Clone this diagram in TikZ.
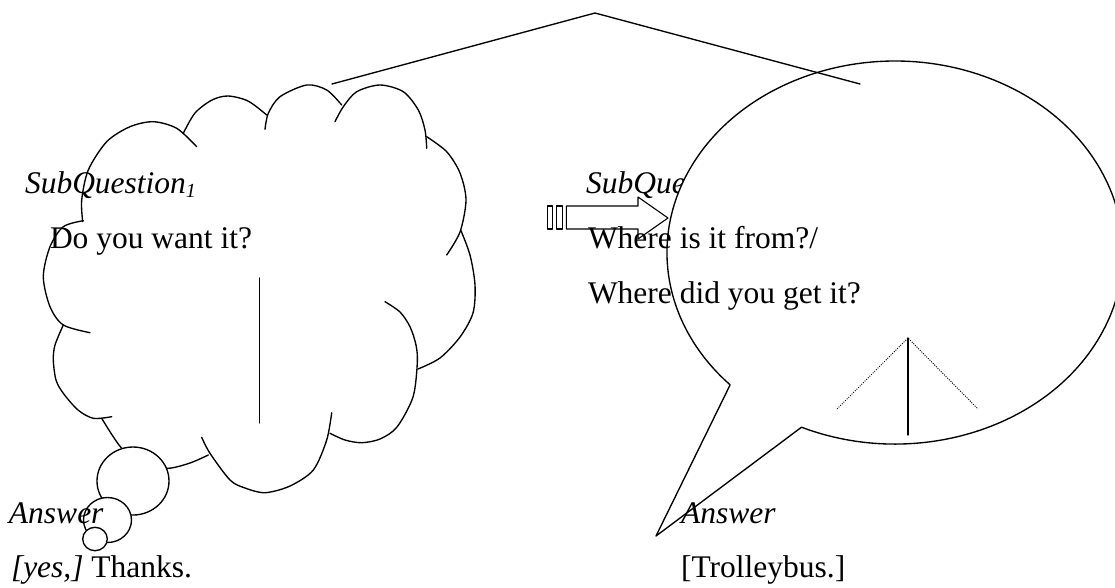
\documentclass[tikz,border=0pt]{standalone}
\usepackage{fontspec}
\setmainfont{Liberation Serif}
\begin{document}
\begin{tikzpicture}[x=1pt,y=-1pt,
  outline/.style={line width=1.35pt, line join=round, line cap=round},
  lbl/.style={anchor=base west, inner sep=0pt, outer sep=0pt, font=\fontsize{31.5}{36}\selectfont},
  dotline/.style={line width=0.9pt, dash pattern=on 1pt off 1.3pt},
  bubblefill/.style={outline, fill=white},
]
\useasboundingbox (0,0) rectangle (1115,587);

% ---------- thought cloud ----------
\draw[outline] plot[smooth] coordinates {(82.7,221.7) (81.7,200) (88.3,170) (106.7,141.7) (130,126.7) (153.3,121.7) (176.7,128.3) (196.7,146.7)};
\draw[outline] plot[smooth] coordinates {(183.3,133.3) (195,113) (212,100) (228,96) (248,101) (266.7,115)};
\draw[outline] plot[smooth] coordinates {(265,129.3) (268.3,113.3) (280,96.7) (306.7,85) (326.7,90) (341.7,105)};
\draw[outline] plot[smooth] coordinates {(335,121.7) (343.3,106.7) (356.7,91.7) (380,85) (403.3,91.7) (418.3,110) (425,130) (426.7,148.3)};
\draw[outline] plot[smooth] coordinates {(426.7,136.7) (446.7,151.7) (460,173) (466,200) (460,232) (446.7,255)};
\draw[outline] plot[smooth] coordinates {(460.7,230) (470,255) (475,285) (473,313) (460,337) (440,358) (418,369)};
\draw[outline] plot[smooth] coordinates {(385,301.7) (400,312) (410,326.7) (416,345) (417.3,363) (413,397) (397,427) (380,439) (361.7,442.7) (345,440) (330,433.3)};
\draw[outline] plot[smooth] coordinates {(331.7,412.7) (326.7,440) (313.3,470) (290,486) (265,492.7) (245,488) (230,480) (210,453.3) (201.7,437.3)};
\draw[outline] plot[smooth] coordinates {(101.7,418.3) (121.7,448.3) (145,465) (168.3,468.3) (190,463) (208.3,455)};
\draw[outline] plot[smooth] coordinates {(63.3,325) (55,345) (53.3,360) (56,380) (63.3,393.3) (78,410) (93.3,418.3) (111.7,416.7)};
\draw[outline] plot[smooth] coordinates {(83.3,220.7) (63.3,226.7) (50,246.7) (43.3,276.7) (50,306.7) (63.3,325) (90,332.7)};

% small thought bubbles
\draw[bubblefill] (133,481) ellipse [x radius=36pt, y radius=34pt];
\draw[bubblefill] (107.5,520) ellipse [x radius=24pt, y radius=22.5pt];
\draw[bubblefill] (95,539) ellipse [x radius=12.3pt, y radius=11.7pt];

% stem inside the cloud
\coordinate (cTop) at (259.5,278);
\coordinate (cBot) at (259.5,423);
\draw[outline] (cTop) -- (cBot);

% left texts
\node[lbl] (sq1) at (25,193) {\itshape SubQuestion\raisebox{-4pt}{\fontsize{20}{20}\selectfont 1}};
\node[lbl] (dq1) at (50,248) {Do you want it?};
\node[lbl] (ans1) at (9,523) {\itshape Answer};
\node[lbl] (a1) at (11,577) {\textit{[yes,]} Thanks.};

% ---------- speech bubble ----------
\node[lbl] (sq2) at (586,193) {\itshape SubQuestion\raisebox{-4pt}{\fontsize{20}{20}\selectfont 2}};
\coordinate (tip) at (656,536);
\draw[bubblefill] (801.5,427.2) arc[start angle=-114.2, end angle=223.7, x radius=228pt, y radius=191.5pt] -- (tip) -- cycle;

% striped arrow
\draw[outline, line width=1.1pt] (547.3,206) rectangle (552.8,229);
\draw[outline, line width=1.1pt] (556.5,206) rectangle (562.7,229);
\draw[outline, line width=1.1pt] (566.4,206) -- (638,206) -- (638,197) -- (668,218) -- (638,239) -- (638,229) -- (566.4,229) -- cycle;

\node[lbl] (wq1) at (588,248) {Where is it from?/};
\node[lbl] (wq2) at (588,303) {Where did you get it?};
\node[lbl] (ans2) at (681,523) {\itshape Answer};
\node[lbl] (a2) at (681,577) {[Trolleybus.]};

% small tree inside the bubble
\coordinate (tA) at (908,338);
\coordinate (tB) at (908,435);
\coordinate (tL) at (837,409);
\coordinate (tR) at (978,409);
\draw[outline] (tA) -- (tB);
\draw[dotline] (tL) -- (tA) -- (tR);

% ---------- top branches ----------
\coordinate (top) at (595,13);
\coordinate (topL) at (332,84);
\coordinate (topR) at (860,84);
\draw[outline] (topL) -- (top) -- (topR);
\end{tikzpicture}
\end{document}
